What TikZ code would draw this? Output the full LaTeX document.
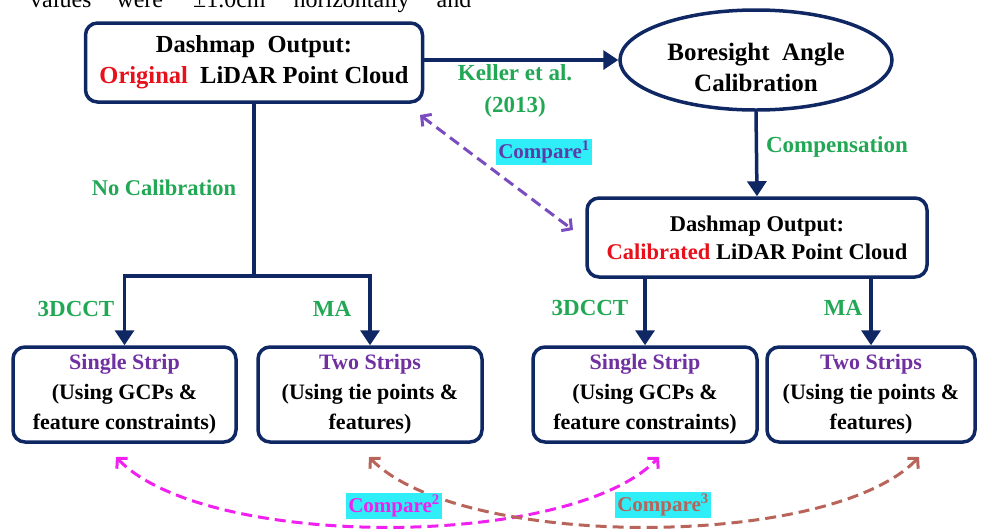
\documentclass[tikz,border=0pt]{standalone}
\usepackage{fontspec}
\setmainfont{Liberation Serif}[BoldFont={Liberation Serif Bold}]
\usetikzlibrary{arrows.meta,shapes.geometric}
\definecolor{navy}{HTML}{0F2864}
\definecolor{grn}{HTML}{22A855}
\definecolor{redc}{HTML}{E8101A}
\definecolor{purp}{HTML}{7030A0}
\definecolor{cmpone}{HTML}{5B3CA8}
\definecolor{cmponearr}{HTML}{7B4CC0}
\definecolor{cyanbg}{HTML}{30EEF8}
\definecolor{mag}{HTML}{F020F0}
\definecolor{brn}{HTML}{B8645A}
\tikzset{
  boxnode/.style={draw=navy, line width=3.5pt, rounded corners=12pt, fill=white, inner sep=0pt, align=center},
  lbl/.style={text=grn, align=center, font=\bfseries\fontsize{23}{32}\selectfont, inner sep=0pt},
  ln/.style={draw=navy, line width=3.5pt},
  arr/.style={draw=navy, line width=3.5pt, -{Triangle[length=15pt,width=19pt]}},
  cmparr/.style={line width=3pt, dash pattern=on 11pt off 6pt, {Straight Barb[length=7pt,width=15pt,line width=3pt]}-{Straight Barb[length=7pt,width=15pt,line width=3pt]}},
  cmplbl/.style={fill=cyanbg, inner sep=2.5pt, font=\bfseries\fontsize{21}{23}\selectfont}
}
\begin{document}
\begin{tikzpicture}[x=1pt,y=-1pt]
\useasboundingbox (0,0) rectangle (981,531);
% cut-off text line at top (only its lower part lies inside the picture)
\node[anchor=base west, inner sep=0pt, font=\fontsize{24}{24}\selectfont] (toptext) at (30,7)
  {values\hskip 25pt were\hskip 30pt ±1.0cm\hskip 28pt horizontally\hskip 27pt and};

% main boxes
\node[boxnode, minimum width=337pt, minimum height=79pt, font=\bfseries\fontsize{24.5}{31}\selectfont] (orig) at (254,62.5)
  {Dashmap\ \ Output:\\{\color{redc}Original}\ \ LiDAR\ Point\ Cloud};
\node[draw=navy, line width=3.5pt, ellipse, minimum width=272pt, minimum height=100pt, inner sep=0pt] (bor) at (756,60) {};
\node[align=center, inner sep=0pt, font=\bfseries\fontsize{25}{31}\selectfont] (bortext) at (756,67) {Boresight\ \ Angle\\Calibration};
\node[boxnode, minimum width=340pt, minimum height=79pt, font=\bfseries\fontsize{22.5}{28}\selectfont] (cal) at (757,237.5)
  {Dashmap Output:\\{\color{redc}Calibrated} LiDAR Point Cloud};

% bottom boxes
\node[boxnode, minimum width=223pt, minimum height=95pt, font=\bfseries\fontsize{22}{30}\selectfont] (b1) at (124.5,394.5)
  {{\color{purp}Single Strip}\\(Using GCPs \&\\feature constraints)};
\node[boxnode, minimum width=224pt, minimum height=95pt, font=\bfseries\fontsize{22}{30}\selectfont] (b2) at (370,394.5)
  {{\color{purp}Two Strips}\\(Using tie points \&\\features)};
\node[boxnode, minimum width=224pt, minimum height=95pt, font=\bfseries\fontsize{22}{30}\selectfont] (b3) at (645,394.5)
  {{\color{purp}Single Strip}\\(Using GCPs \&\\feature constraints)};
\node[boxnode, minimum width=208pt, minimum height=95pt, font=\bfseries\fontsize{22}{30}\selectfont] (b4) at (871,394.5)
  {{\color{purp}Two Strips}\\(Using tie points \&\\features)};

% solid connectors
\draw[arr] (orig.east |- bor.west) -- (bor.west);
\draw[arr] (bor.south) -- (cal.north);
\coordinate (j1) at (orig.south |- 0,276);
\draw[ln] (orig.south) -- (j1);
\draw[arr] (j1) -| (b1.north);
\draw[arr] (j1) -| (b2.north);
\draw[arr] (b3.north |- cal.south) -- (b3.north);
\draw[arr] (b4.north |- cal.south) -- (b4.north);

% green labels
\node[lbl] (keller) at (515,91) {Keller et al.\\(2013)};
\node[lbl] (comp) at (837,147) {Compensation};
\node[lbl, font=\bfseries\fontsize{22.5}{30}\selectfont] (nocal) at (164,188) {No Calibration};
\node[lbl] (l3a) at (76,309) {3DCCT};
\node[lbl] (lma) at (332,309) {MA};
\node[lbl] (l3b) at (590,308) {3DCCT};
\node[lbl] (lmb) at (843,308) {MA};

% compare arrows
\coordinate (c1a) at (420,115);
\coordinate (c1b) at (573,230);
\draw[cmparr, draw=cmponearr] (c1a) -- (c1b);
\coordinate (m1) at (116,457);
\coordinate (m2) at (659,457);
\coordinate (r1) at (369,457);
\coordinate (r2) at (919,457);
\draw[cmparr, draw=mag] (m1) .. controls (205,550) and (570,550) .. (m2);
\draw[cmparr, draw=brn] (r1) .. controls (460,550) and (830,550) .. (r2);

\node[cmplbl, text=cmpone] (cmp1) at (544,152) {Compare\textsuperscript{1}};
\node[cmplbl, text=mag] (cmp2) at (394,506) {Compare\textsuperscript{2}};
\node[cmplbl, text=brn] (cmp3) at (663,505) {Compare\textsuperscript{3}};
\end{tikzpicture}
\end{document}
